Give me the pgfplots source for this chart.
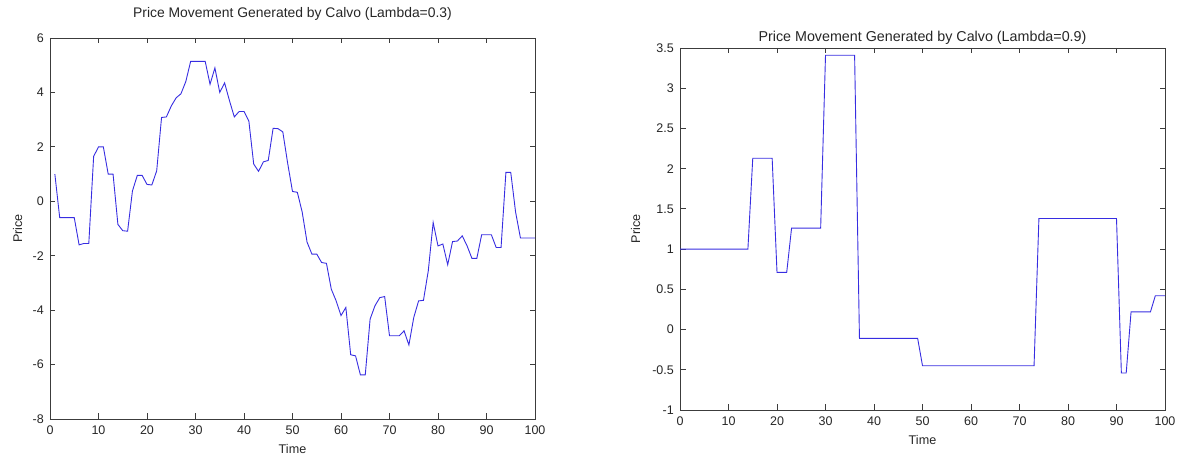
\documentclass[border=0pt]{standalone}
\usepackage{fontspec}
\setmainfont{Liberation Sans}
\usepackage{pgfplots}
\pgfplotsset{compat=1.18}
\definecolor{lineblue}{RGB}{55,45,225}
\definecolor{axgray}{RGB}{60,60,60}
\pgfplotsset{
  calvo/.style={
    scale only axis, width=485pt,
    xmin=0, xmax=100, xtick={0,10,...,100},
    axis line style={axgray, line width=0.8pt},
    every tick/.style={axgray, line width=0.8pt},
    major tick length=5.5pt,
    tick align=inside,
    tick pos=both,
    xticklabel pos=lower, yticklabel pos=left,
    minor tick num=0,
    /pgf/number format/assume math mode=true,
    tick label style={font=\fontsize{12.5}{14}\selectfont, text=black!85},
    xticklabel style={anchor=north, inner sep=0pt, yshift=-7pt},
    yticklabel style={anchor=east, inner sep=0pt, xshift=-6pt},
    every axis title/.style={at={(axis description cs:0.5,1)}, anchor=base, inner sep=0pt, font=\fontsize{13.9}{16}\selectfont, text=black!85},
    every axis x label/.style={at={(axis description cs:0.5,0)}, anchor=north, inner sep=0pt, yshift=-25pt, font=\fontsize{12.6}{14}\selectfont, text=black!85},
    xlabel={Time}, ylabel={Price},
    clip=true,
  }
}
\begin{document}
\begin{tikzpicture}
\path (0,0) rectangle (1182pt,460pt);
% Left panel
\begin{axis}[calvo, at={(50pt,41pt)}, anchor=south west, height=381pt,
  ymin=-8, ymax=6, ytick={-8,-6,-4,-2,0,2,4,6},
  title={Price Movement Generated by Calvo (Lambda=0.3)},
  title style={yshift=20.7pt},
  every axis y label/.style={at={(axis description cs:0,0.5)}, xshift=-28pt, rotate=90, anchor=base, inner sep=0pt, font=\fontsize{12.6}{14}\selectfont, text=black!85},
]
\addplot[lineblue, line width=0.9pt] coordinates {
(1,1.0)(2,-0.6)(3,-0.6)(4,-0.6)(5,-0.6)(6,-1.6)(7,-1.55)(8,-1.55)(9,1.65)(10,2.0)
(11,2.0)(12,1.0)(13,1.0)(14,-0.85)(15,-1.08)(16,-1.1)(17,0.38)(18,0.95)(19,0.95)(20,0.62)
(21,0.6)(22,1.12)(23,3.08)(24,3.1)(25,3.5)(26,3.8)(27,3.95)(28,4.4)(29,5.14)(30,5.14)
(31,5.14)(32,5.14)(33,4.3)(34,4.9)(35,4.0)(36,4.35)(37,3.7)(38,3.1)(39,3.3)(40,3.3)
(41,2.95)(42,1.37)(43,1.1)(44,1.45)(45,1.5)(46,2.68)(47,2.67)(48,2.55)(49,1.4)(50,0.36)
(51,0.33)(52,-0.4)(53,-1.5)(54,-1.94)(55,-1.94)(56,-2.25)(57,-2.28)(58,-3.23)(59,-3.66)(60,-4.2)
(61,-3.9)(62,-5.64)(63,-5.68)(64,-6.38)(65,-6.38)(66,-4.33)(67,-3.84)(68,-3.54)(69,-3.5)(70,-4.94)
(71,-4.94)(72,-4.94)(73,-4.76)(74,-5.28)(75,-4.27)(76,-3.66)(77,-3.64)(78,-2.55)(79,-0.78)(80,-1.64)
(81,-1.57)(82,-2.33)(83,-1.48)(84,-1.46)(85,-1.27)(86,-1.64)(87,-2.1)(88,-2.1)(89,-1.23)(90,-1.23)
(91,-1.23)(92,-1.7)(93,-1.7)(94,1.06)(95,1.06)(96,-0.4)(97,-1.35)(98,-1.35)(99,-1.35)(100,-1.35)
};
\end{axis}
% Right panel
\begin{axis}[calvo, at={(680pt,50pt)}, anchor=south west, height=362pt,
  ymin=-1, ymax=3.5, ytick={-1,-0.5,0,0.5,1,1.5,2,2.5,3,3.5},
  title={Price Movement Generated by Calvo (Lambda=0.9)},
  title style={yshift=6.6pt, font=\fontsize{14.3}{16}\selectfont},
  every axis y label/.style={at={(axis description cs:0,0.5)}, xshift=-40pt, rotate=90, anchor=base, inner sep=0pt, font=\fontsize{12.6}{14}\selectfont, text=black!85},
]
\addplot[lineblue, line width=0.9pt] coordinates {
(0,1)(14,1)(15,2.13)(19,2.13)(20,0.71)(22,0.71)(23,1.26)(29,1.26)(30,3.41)(36,3.41)
(37,-0.11)(49,-0.11)(50,-0.45)(73,-0.45)(74,1.38)(90,1.38)(91,-0.54)(92,-0.54)(93,0.22)(97,0.22)
(98,0.42)(100,0.42)
};
\end{axis}
\pgfresetboundingbox
\path[use as bounding box] (0,0) rectangle (1182pt,460pt);
\end{tikzpicture}
\end{document}
